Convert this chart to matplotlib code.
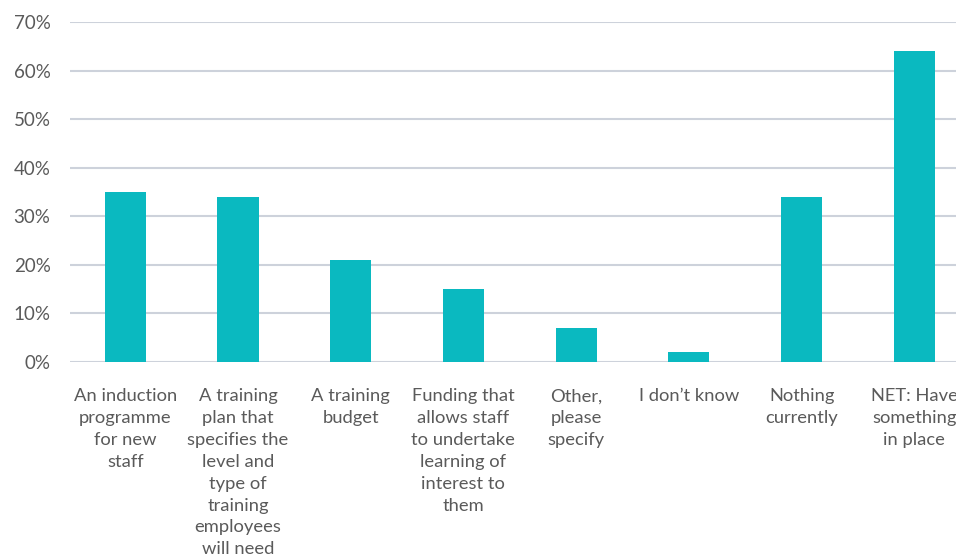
import matplotlib
matplotlib.use("Agg")
from matplotlib import pyplot as plt
from matplotlib.ticker import FuncFormatter
import numpy as np

# survey answers, share of respondents (%)
categories = [
    "An induction\nprogramme\nfor new\nstaff",
    "A training\nplan that\nspecifies the\nlevel and\ntype of\ntraining\nemployees\nwill need",
    "A training\nbudget",
    "Funding that\nallows staff\nto undertake\nlearning of\ninterest to\nthem",
    "Other,\nplease\nspecify",
    "I don\u2019t know",
    "Nothing\ncurrently",
    "NET: Have\nsomething\nin place",
]
values = [35, 34, 21, 15, 7, 2, 34, 64]
y_ticks = [0, 10, 20, 30, 40, 50, 60, 70]

bar_color = "#0AB9C0"
grid_color = "#CDD2DB"
text_color = "#5A5A5A"

plt.rcParams["font.family"] = ["Lato", "DejaVu Sans"]

fig = plt.figure(figsize=(9.56, 5.59), dpi=100)
ax = fig.add_axes([70 / 956, 1 - 362 / 559, 1 - 70 / 956, (362 - 22) / 559])

x = np.arange(len(values))
ax.bar(x, values, width=0.365, color=bar_color, zorder=2)

ax.set_ylim(0, 70)
ax.set_xlim(-0.49, 7.37)
ax.set_yticks(y_ticks)
ax.yaxis.set_major_formatter(FuncFormatter(lambda v, _: f"{v:.0f}%"))
ax.set_xticks(x)
ax.set_xticklabels(categories, linespacing=1.45)

ax.grid(axis="y", color=grid_color, linewidth=1.5, zorder=1)
ax.set_axisbelow(True)
for s in ax.spines.values():
    s.set_visible(False)

ax.tick_params(axis="y", length=0, pad=14, labelsize=13.5, labelcolor=text_color)
ax.tick_params(axis="x", length=0, pad=19, labelsize=13.2, labelcolor=text_color)

fig.savefig("out.png", dpi=100)
